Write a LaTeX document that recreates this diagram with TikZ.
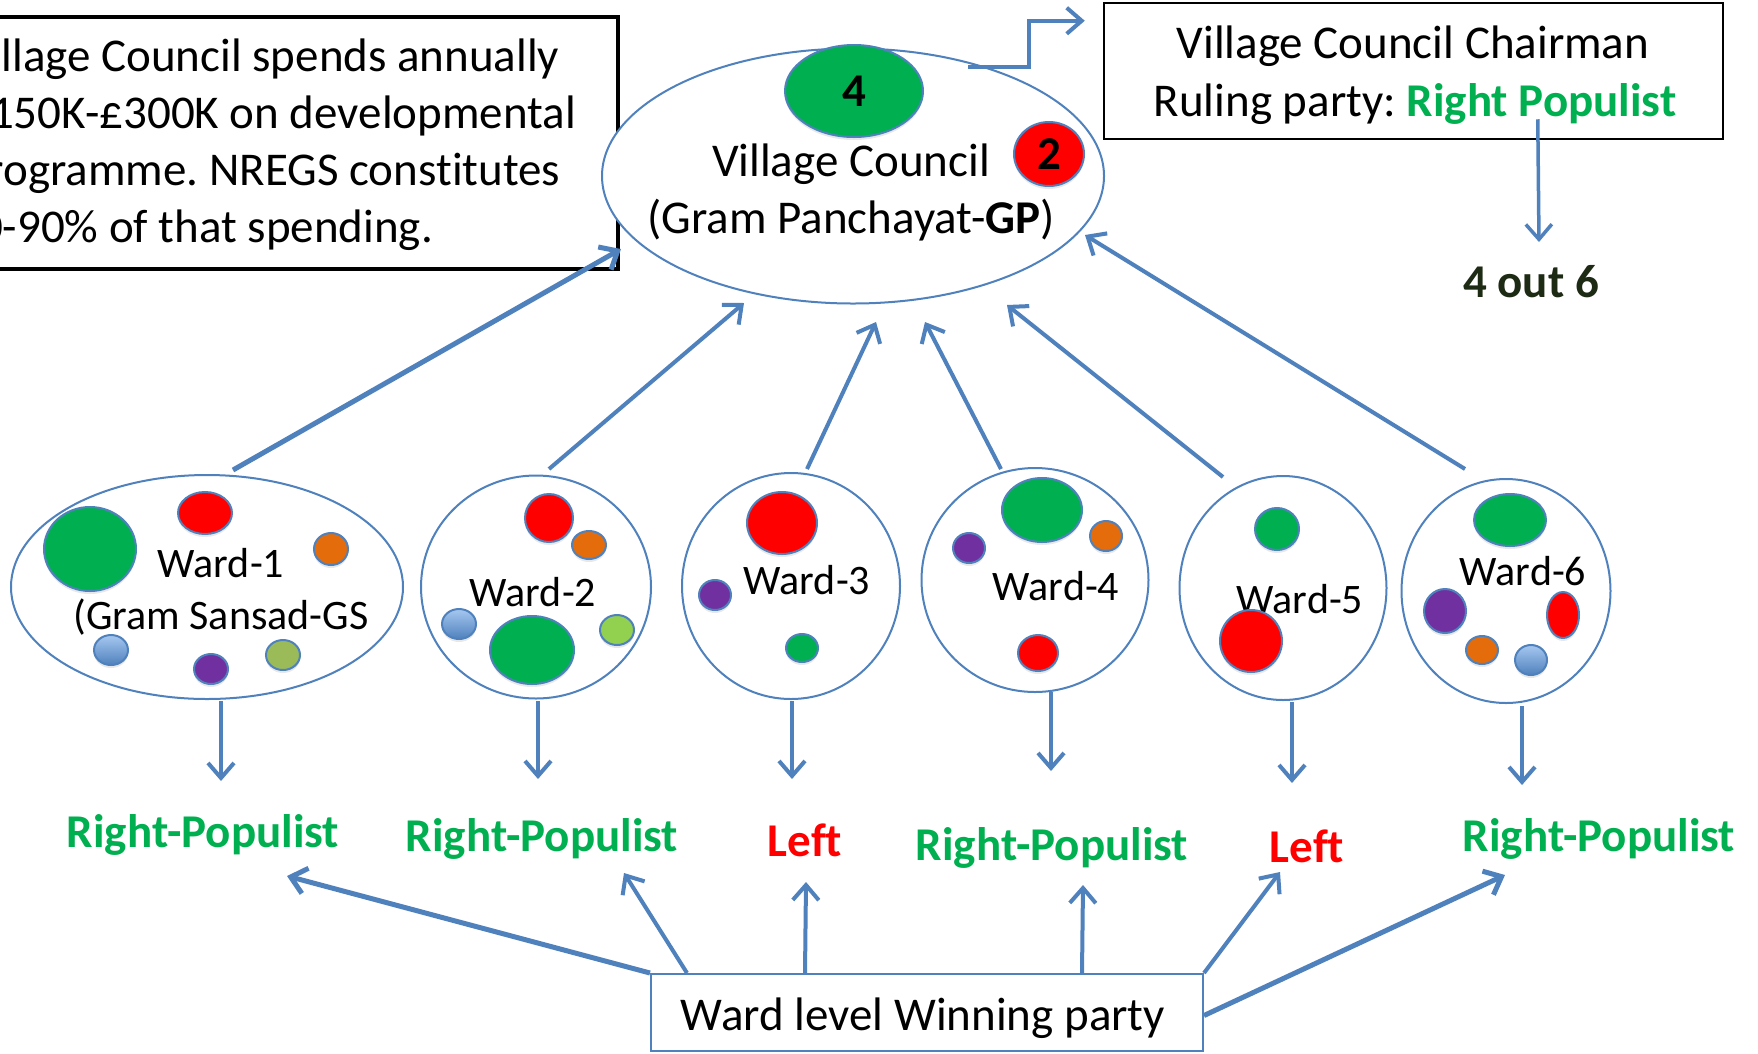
\documentclass[tikz,border=0pt]{standalone}
\usepackage{fontspec}
\setmainfont{Carlito}[Ligatures=CommonOff]
\usetikzlibrary{arrows.meta,shapes.geometric,shadows}
\definecolor{blu}{HTML}{4F81BD}
\definecolor{grn}{HTML}{00B050}
\definecolor{rd}{HTML}{FF0000}
\definecolor{org}{HTML}{E46C0A}
\definecolor{pur}{HTML}{7030A0}
\definecolor{oli}{HTML}{9BBB59}
\definecolor{lgr}{HTML}{92D050}
\definecolor{lbl}{HTML}{A6C8F0}
\definecolor{dkg}{HTML}{1E2B14}
\frenchspacing
\begin{document}
\begin{tikzpicture}[x=1pt,y=-1pt,
  bigtxt/.style={font=\fontsize{47}{57}\selectfont, inner sep=0, anchor=base},
  wardtxt/.style={font=\fontsize{42}{51}\selectfont, inner sep=0, anchor=base},
  partytxt/.style={font=\fontsize{47}{57}\selectfont\bfseries, inner sep=0, anchor=base},
  ell/.style={ellipse, draw=blu, line width=2pt, inner sep=0, fill=white},
  dot/.style={ellipse, draw=blu, line width=2pt, inner sep=0,
     drop shadow={shadow xshift=0pt, shadow yshift=-3pt, opacity=0.18}},
  arr/.style={draw=blu, line width=4pt, -{Straight Barb[length=15pt,width=26pt]}},
  thickarr/.style={arr, line width=5pt},
  thinarr/.style={arr, line width=3.5pt}
]
\useasboundingbox (0,0) rectangle (1758,1053);
\clip (0,0) rectangle (1758,1053);
\fill[white] (0,0) rectangle (1758,1053);

% note box
\node[draw=black, line width=4pt, minimum width=678, minimum height=252, inner sep=0] (note) at (279,143) {};
\node[bigtxt, anchor=base west] (n1) at (-36,71) {Village Council spends annually};
\node[bigtxt, anchor=base west] (n2) at (-34,128) {£150K-£300K on developmental};
\node[bigtxt, anchor=base west] (n3) at (-37,185) {programme. NREGS constitutes};
\node[bigtxt, anchor=base west] (n4) at (-45,242) {80-90\% of that spending.};

% village council
\node[ell, minimum width=502, minimum height=255] (gp) at (853,176) {};
\node[bigtxt] (gpt1) at (851,176) {Village Council};
\node[bigtxt] (gpt2) at (851,233) {(Gram Panchayat-\textbf{GP})};
\node[dot, fill=grn, minimum width=138, minimum height=92, font=\fontsize{47}{57}\selectfont\bfseries] (g4) at (854,91) {4};
\node[dot, fill=rd, minimum width=70, minimum height=64, font=\fontsize{47}{57}\selectfont\bfseries] (r2) at (1049,154) {2};

% chairman box
\node[draw=black, line width=2.5pt, minimum width=619, minimum height=136, inner sep=0] (chair) at (1413.5,71) {};
\node[bigtxt] (ch1) at (1413,58) {Village Council Chairman};
\node[bigtxt] (ch2) at (1415,116) {Ruling party: \textcolor{grn}{\bfseries Right Populist}};
\node[partytxt, text=dkg] (out) at (1531,297) {4 out 6};

% wards
\node[ell, minimum width=392, minimum height=224] (w1) at (207,587) {};
\node[ell, minimum width=230, minimum height=223] (w2) at (536,587) {};
\node[ell, minimum width=218, minimum height=226] (w3) at (791,586) {};
\node[ell, minimum width=227, minimum height=224] (w4) at (1035,580) {};
\node[ell, minimum width=207, minimum height=224] (w5) at (1283,588) {};
\node[ell, minimum width=209, minimum height=224] (w6) at (1506,591) {};

\node[wardtxt] (w1t) at (221,577) {Ward-1};
\node[wardtxt] (w1s) at (221,629) {(Gram Sansad-GS};
\node[wardtxt] (w2t) at (533,606) {Ward-2};
\node[wardtxt] (w3t) at (807,594) {Ward-3};
\node[wardtxt] (w4t) at (1056,600) {Ward-4};
\node[wardtxt] (w5t) at (1300,613) {Ward-5};
\node[wardtxt] (w6t) at (1523,585) {Ward-6};

% dots ward 1
\node[dot, fill=grn, minimum width=92, minimum height=84] (d1g) at (90,549) {};
\node[dot, fill=rd, minimum width=54, minimum height=42] (d1r) at (205,513) {};
\node[dot, fill=org, minimum width=34, minimum height=32] (d1o) at (331,549) {};
\node[dot, top color=lbl, bottom color=blu, minimum width=34, minimum height=30] (d1b) at (111,650) {};
\node[dot, fill=pur, minimum width=34, minimum height=30] (d1p) at (211,669) {};
\node[dot, fill=oli, minimum width=34, minimum height=30] (d1l) at (283,655) {};
% ward 2
\node[dot, fill=rd, minimum width=48, minimum height=48] (d2r) at (549,518) {};
\node[dot, fill=org, minimum width=34, minimum height=28] (d2o) at (589,545) {};
\node[dot, top color=lbl, bottom color=blu, minimum width=34, minimum height=30] (d2b) at (459,624) {};
\node[dot, fill=grn, minimum width=84, minimum height=68] (d2g) at (532,650) {};
\node[dot, fill=lgr, minimum width=34, minimum height=30] (d2l) at (617,630) {};
% ward 3
\node[dot, fill=rd, minimum width=70, minimum height=62] (d3r) at (782,523) {};
\node[dot, fill=pur, minimum width=32, minimum height=30] (d3p) at (715,595) {};
\node[dot, fill=grn, minimum width=32, minimum height=28] (d3g) at (802,648) {};
% ward 4
\node[dot, fill=grn, minimum width=80, minimum height=64] (d4g) at (1042,510) {};
\node[dot, fill=org, minimum width=32, minimum height=30] (d4o) at (1106,536) {};
\node[dot, fill=pur, minimum width=32, minimum height=30] (d4p) at (969,548) {};
\node[dot, fill=rd, minimum width=40, minimum height=36] (d4r) at (1038,653) {};
% ward 5
\node[dot, fill=grn, minimum width=44, minimum height=42] (d5g) at (1277,529) {};
\node[dot, fill=rd, minimum width=62, minimum height=62] (d5r) at (1251,641) {};
% ward 6
\node[dot, fill=grn, minimum width=72, minimum height=52] (d6g) at (1510,520) {};
\node[dot, fill=pur, minimum width=42, minimum height=44] (d6p) at (1445,611) {};
\node[dot, fill=rd, minimum width=32, minimum height=46] (d6r) at (1563,615) {};
\node[dot, fill=org, minimum width=32, minimum height=28] (d6o) at (1482,650) {};
\node[dot, top color=lbl, bottom color=blu, minimum width=32, minimum height=30] (d6b) at (1531,660) {};

% party labels
\node[partytxt, text=grn] (l1) at (203,847) {Right-Populist};
\node[partytxt, text=grn] (l2) at (542,851) {Right-Populist};
\node[partytxt, text=rd] (l3) at (805,856) {Left};
\node[partytxt, text=grn] (l4) at (1052,860) {Right-Populist};
\node[partytxt, text=rd] (l5) at (1307,862) {Left};
\node[partytxt, text=grn] (l6) at (1599,851) {Right-Populist};

% bottom box
\node[draw=blu, line width=2pt, minimum width=552, minimum height=77, inner sep=0, fill=white] (wl) at (927,1012.5) {};
\node[bigtxt] (wlt) at (923,1030) {Ward level Winning party};

% arrows wards -> council
\draw[thickarr] ([shift={(26,-117)}]w1.center) -- ([shift={(1,-22)}]note.south east);
\draw[arr] ([shift={(13,-118)}]w2.center) -- ([shift={(-109,127)}]gp.center);
\draw[arr] ([shift={(16,-117)}]w3.center) -- ([shift={(23,146)}]gp.center);
\draw[arr] ([shift={(-34,-111)}]w4.center) -- ([shift={(72,146)}]gp.center);
\draw[arr] ([shift={(-60,-111)}]w5.center) -- ([shift={(154,129)}]gp.center);
\draw[arr] ([shift={(-41,-122)}]w6.center) -- ([shift={(232,59)}]gp.center);

% elbow to chairman, chairman to count
\draw[arr] ([shift={(115,-109)}]gp.center) -- ++(61,0) |- ([shift={(-18,19)}]chair.north west);
\draw[thinarr] ([shift={(435,-21)}]chair.south west) -- ([shift={(8,-55)}]out.base);

% wards -> labels
\draw[arr] ([shift={(14,114)}]w1.center) -- ++(0,80);
\draw[arr] ([shift={(2,114)}]w2.center) -- ++(0,78);
\draw[arr] ([shift={(1,115)}]w3.center) -- ++(0,78);
\draw[arr] ([shift={(16,112)}]w4.center) -- ++(0,79);
\draw[arr] ([shift={(9,114)}]w5.center) -- ++(0,81);
\draw[arr] ([shift={(16,115)}]w6.center) -- ++(0,79);

% bottom box -> labels
\draw[thickarr] (wl.north west) -- ([shift={(84,29)}]l1.base);
\draw[arr] ([shift={(37,0)}]wl.north west) -- ([shift={(82,22)}]l2.base);
\draw[arr] ([shift={(155,0)}]wl.north west) -- ([shift={(1,26)}]l3.base);
\draw[arr] ([shift={(432,0)}]wl.north west) -- ([shift={(31,25)}]l4.base);
\draw[arr] (wl.north east) -- ([shift={(-27,10)}]l5.base);
\draw[thickarr] ([shift={(0,3)}]wl.east) -- ([shift={(-94,24)}]l6.base);
\end{tikzpicture}
\end{document}
